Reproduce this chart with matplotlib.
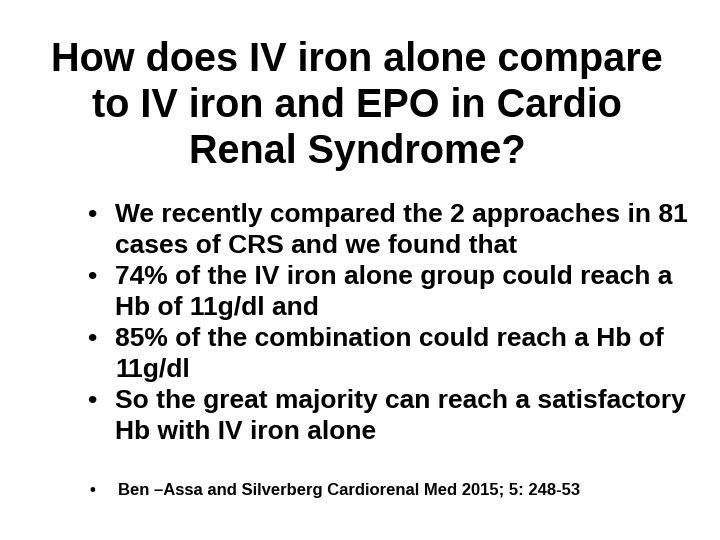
import matplotlib.pyplot as plt

plt.rcParams['font.family'] = ['Liberation Sans', 'DejaVu Sans']

title_lines = ["How does IV iron alone compare",
               "to IV iron and EPO in Cardio",
               "Renal Syndrome?"]
bullets = [
    ["We recently compared the 2 approaches in 81", "cases of CRS and we found that"],
    ["74% of the IV iron alone group could reach a", "Hb of 11g/dl and"],
    ["85% of the combination could reach a Hb of", "11g/dl"],
    ["So the great majority can reach a satisfactory", "Hb with IV iron alone"],
]
reference = "Ben \u2013Assa and Silverberg Cardiorenal Med 2015; 5: 248-53"

fig = plt.figure(figsize=(7.2, 5.4), dpi=100)
W, H = 720, 540

def px(x, y):
    return x / W, 1 - y / H

# title
for i, line in enumerate(title_lines):
    fig.text(*px(357, 60 + i * 46), line, ha='center', va='center',
             fontsize=28.5, fontweight='bold')

# bullets
y = 215
for b in bullets:
    fig.text(*px(92, y), "\u2022", ha='center', va='center', fontsize=19, fontweight='bold')
    for line in b:
        fig.text(*px(115, y), line, ha='left', va='center', fontsize=19, fontweight='bold')
        y += 31

fig.text(*px(92, 491), "\u2022", ha='center', va='center', fontsize=12, fontweight='bold')
fig.text(*px(118, 491), reference, ha='left', va='center', fontsize=12, fontweight='bold')

fig.savefig('out.png', dpi=100, facecolor='white')
